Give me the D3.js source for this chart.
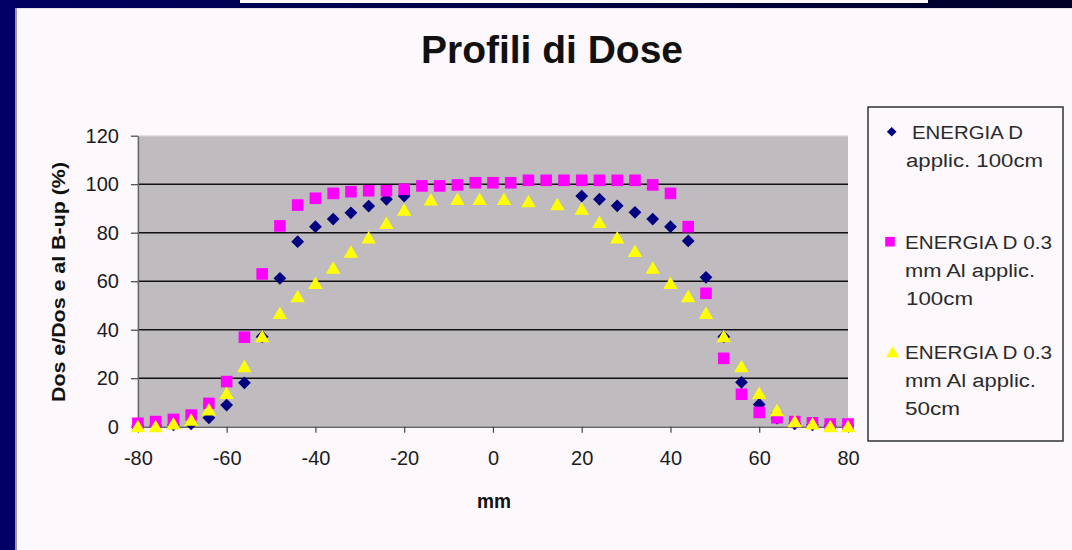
<!DOCTYPE html>
<html>
<head>
<meta charset="utf-8">
<script src="https://cdn.jsdelivr.net/npm/d3@7"></script>
<style>
  html, body { margin: 0; padding: 0; background: #fcf8fc; }
  svg { display: block; }
  text { font-family: "Liberation Sans", Arial, sans-serif; }
</style>
</head>
<body>
<script>
// ---- data ----
const title = "Profili di Dose";
const yAxisTitle = "Dos e/Dos e al B-up (%)";
const xAxisTitle = "mm";
const xTicks = [-80, -60, -40, -20, 0, 20, 40, 60, 80];
const yTicks = [0, 20, 40, 60, 80, 100, 120];
const gridValues = [20, 40, 60, 80, 100];

const seriesNames = ["ENERGIA D applic. 100cm", "ENERGIA D 0.3 mm Al applic. 100cm", "ENERGIA D 0.3 mm Al applic. 50cm"];
const legendLines = [
  ["ENERGIA D", "applic. 100cm"],
  ["ENERGIA D 0.3", "mm Al applic.", "100cm"],
  ["ENERGIA D 0.3", "mm Al applic.", "50cm"]
];

// ENERGIA D applic. 100cm (navy diamonds)
const navyX = [-80, -76, -72, -68, -64, -60, -56, -52, -48, -44, -40, -36, -32, -28, -24, -20,
               20, 24, 28, 32, 36, 40, 44, 48, 52, 56, 60, 64, 68, 72, 76, 80];
const navyY = [0.5, 0.5, 0.8, 1.2, 3.7, 8.9, 18.1, 37.1, 61.2, 76.3, 82.5, 85.6, 88.2, 91.0, 93.8, 95.1,
               95.1, 93.8, 91.1, 88.4, 85.6, 82.5, 76.6, 61.6, 37.1, 18.3, 9.2, 3.5, 1.2, 0.8, 0.5, 0.5];

// ENERGIA D 0.3 mm Al applic. 100cm (magenta squares)
const pinkX = [-80, -76, -72, -68, -64, -60, -56, -52, -48, -44, -40, -36, -32, -28, -24, -20, -16, -12, -8, -4, 0,
               4, 8, 12, 16, 20, 24, 28, 32, 36, 40, 44, 48, 52, 56, 60, 64, 68, 72, 76, 80];
const pinkY = [1.4, 2.1, 3.0, 4.8, 9.6, 18.6, 36.9, 63.0, 82.8, 91.4, 94.2, 96.2, 96.9, 97.3, 97.3, 97.9, 99.3, 99.3, 99.7, 100.6, 100.6,
               100.6, 101.6, 101.6, 101.6, 101.6, 101.6, 101.6, 101.6, 99.7, 96.2, 82.5, 55.0, 28.2, 13.4, 5.9, 3.7, 2.1, 1.6, 1.1, 1.1];

// ENERGIA D 0.3 mm Al applic. 50cm (yellow triangles)
const yellowX = [-80, -76, -72, -68, -64, -60, -56, -52, -48, -44, -40, -36, -32, -28, -24, -20, -14, -8, -3,
                 2.5, 8, 14.5, 20, 24, 28, 32, 36, 40, 44, 48, 52, 56, 60, 64, 68, 72, 76, 80];
const yellowY = [0.3, 0.3, 1.4, 3.0, 7.2, 14.0, 25.0, 37.4, 47.0, 53.9, 59.4, 65.7, 72.2, 78.1, 84.1, 89.6, 93.8, 94.0, 94.0,
                 94.0, 93.1, 91.8, 90.0, 84.5, 78.1, 72.6, 65.7, 59.4, 53.9, 47.0, 37.4, 25.0, 14.0, 6.9, 2.4, 1.4, 0.3, 0.3];

// ---- drawing ----
const W = 1072, H = 550;
const svg = d3.select("body").append("svg").attr("width", W).attr("height", H);

// slide frame
svg.append("rect").attr("x", 0).attr("y", 0).attr("width", W).attr("height", H).attr("fill", "#fcf8fc");
const grad = svg.append("defs").append("linearGradient").attr("id", "topband").attr("x1", 0).attr("x2", 1);
grad.append("stop").attr("offset", 0).attr("stop-color", "#000060");
grad.append("stop").attr("offset", 1).attr("stop-color", "#000028");
svg.append("rect").attr("x", 0).attr("y", 0).attr("width", W).attr("height", 8).attr("fill", "url(#topband)");
svg.append("rect").attr("x", 0).attr("y", 8).attr("width", W).attr("height", 1).attr("fill", "#e4e0e6");
svg.append("rect").attr("x", 0).attr("y", 0).attr("width", 15).attr("height", H).attr("fill", "#000066");
svg.append("rect").attr("x", 15).attr("y", 8).attr("width", 2).attr("height", H - 8).attr("fill", "#9a98a8");
svg.append("rect").attr("x", 240).attr("y", 0).attr("width", 688).attr("height", 3).attr("fill", "#fcf8fc");

// plot geometry
const x = d3.scaleLinear().domain([-80, 80]).range([137.9, 848]);
const y = d3.scaleLinear().domain([0, 120]).range([426.7, 135.7]);

svg.append("rect")
  .attr("x", x(-80)).attr("y", y(120))
  .attr("width", x(80) - x(-80)).attr("height", y(0) - y(120))
  .attr("fill", "#bfbbbf");
svg.append("line").attr("x1", x(-80)).attr("x2", x(80)).attr("y1", y(120) + 0.5).attr("y2", y(120) + 0.5)
  .attr("stroke", "#d6d2d6").attr("stroke-width", 1);

// gridlines
svg.append("g").selectAll("line").data(gridValues).join("line")
  .attr("x1", x(-80)).attr("x2", x(80))
  .attr("y1", d => y(d)).attr("y2", d => y(d))
  .attr("stroke", "#111").attr("stroke-width", 1.4);

// axes
const yAxis = d3.axisLeft(y).tickValues(yTicks).tickFormat(d3.format("d"))
  .tickSizeInner(7).tickSizeOuter(0).tickPadding(12);
const gy = svg.append("g").attr("transform", `translate(${x(-80)},0)`).call(yAxis);
gy.select(".domain").attr("stroke", "#666").attr("stroke-width", 1.5);
gy.selectAll(".tick line").attr("stroke", "#444").attr("stroke-width", 1.2);
gy.selectAll(".tick text").attr("font-size", 20).attr("fill", "#1c1c1c")
  .attr("font-family", "Liberation Sans, Arial, sans-serif");

const xAxis = d3.axisBottom(x).tickValues(xTicks).tickFormat(d3.format("d"))
  .tickSizeInner(6).tickSizeOuter(0).tickPadding(18);
const gx = svg.append("g").attr("transform", `translate(0,${y(0)})`).call(xAxis);
gx.select(".domain").attr("stroke", "#666").attr("stroke-width", 1.5);
gx.selectAll(".tick line").attr("stroke", "#444").attr("stroke-width", 1.2);
gx.selectAll(".tick text").attr("font-size", 20).attr("fill", "#1c1c1c")
  .attr("font-family", "Liberation Sans, Arial, sans-serif")
  .text(d => d < 0 ? "-" + Math.abs(d) : String(d));

// marker shapes
function diamond(s) { return `M0,${-s}L${s},0L0,${s}L${-s},0Z`; }
function square(s) { return `M${-s},${-s}H${s}V${s}H${-s}Z`; }
function triangle(w, h) { return `M0,${-h / 2}L${w / 2},${h / 2}L${-w / 2},${h / 2}Z`; }

const series = [
  { xs: navyX, ys: navyY, color: "#000080", path: diamond(6.4), lpath: diamond(4.8) },
  { xs: pinkX, ys: pinkY, color: "#ff00ff", path: square(5.8), lpath: square(4.8) },
  { xs: yellowX, ys: yellowY, color: "#ffff00", path: triangle(14.5, 12.5), lpath: triangle(13, 11) }
];

series.forEach(s => {
  const pts = s.xs.map((v, i) => [v, s.ys[i]]);
  svg.append("g").selectAll("path").data(pts).join("path")
    .attr("d", s.path)
    .attr("transform", d => `translate(${x(d[0])},${y(d[1])})`)
    .attr("fill", s.color);
});

// titles
svg.append("text").attr("x", 552).attr("y", 63).attr("text-anchor", "middle")
  .attr("font-size", 38).attr("font-weight", "bold").attr("fill", "#111")
  .attr("textLength", 262).attr("lengthAdjust", "spacingAndGlyphs")
  .text(title);

svg.append("text").attr("transform", "translate(65,282) rotate(-90)").attr("text-anchor", "middle")
  .attr("font-size", 19).attr("font-weight", "bold").attr("fill", "#111")
  .attr("textLength", 240).attr("lengthAdjust", "spacingAndGlyphs")
  .text(yAxisTitle);

svg.append("text").attr("x", 494).attr("y", 508).attr("text-anchor", "middle")
  .attr("font-size", 21).attr("font-weight", "bold").attr("fill", "#111")
  .attr("textLength", 34).attr("lengthAdjust", "spacingAndGlyphs")
  .text(xAxisTitle);

// legend
svg.append("rect").attr("x", 868).attr("y", 107).attr("width", 195).attr("height", 334)
  .attr("fill", "#fcf8fc").attr("stroke", "#333").attr("stroke-width", 1.5);

const legendTop = [131.7, 241.7, 351.7];
const legendMarkerX = [891.7, 890, 892.7];
const lineWidths = [[111, 137], [147, 130, 67], [147, 131, 55]];
const lineX = [[912, 906], [905, 905, 906], [905, 905, 905]];
legendLines.forEach((lines, i) => {
  svg.append("path").attr("d", series[i].lpath)
    .attr("transform", `translate(${legendMarkerX[i]},${legendTop[i]})`)
    .attr("fill", series[i].color);
  lines.forEach((t, j) => {
    svg.append("text")
      .attr("x", lineX[i][j]).attr("y", legendTop[i] + j * 28 + 6.8)
      .attr("font-size", 18).attr("fill", "#2a2a2a")
      .attr("textLength", lineWidths[i][j]).attr("lengthAdjust", "spacingAndGlyphs")
      .text(t);
  });
});
</script>
</body>
</html>
